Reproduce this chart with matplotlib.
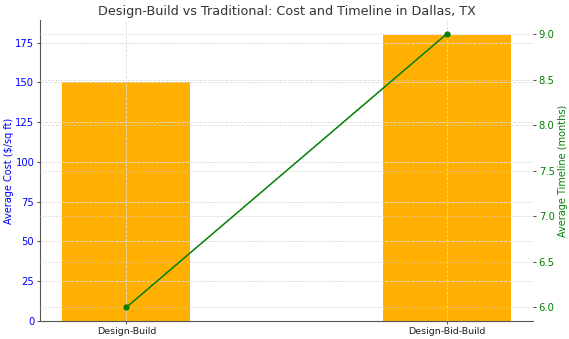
import matplotlib
matplotlib.use("Agg")
import matplotlib.pyplot as plt

methods = ["Design-Build", "Design-Bid-Build"]
cost = [150, 180]
timeline = [6.0, 9.0]

fig, ax1 = plt.subplots(figsize=(5.69, 3.39), dpi=100)
ax1.bar(methods, cost, width=0.4, color="#FFB000")
ax1.set_ylabel("Average Cost ($/sq ft)", color="blue", fontsize=7, labelpad=1)
ax1.tick_params(axis="y", labelcolor="blue", labelsize=7.2, color="#555555",
                length=2, pad=2)
ax1.tick_params(axis="x", labelsize=6.8, color="#555555", length=2, pad=2,
                labelcolor="#222222")
ax1.grid(True, linestyle="--", color="#dddddd", linewidth=0.6)
for s in ["top", "right"]:
    ax1.spines[s].set_visible(False)
for s in ["left", "bottom"]:
    ax1.spines[s].set_color("#555555")

ax2 = ax1.twinx()
ax2.plot(methods, timeline, color="green", marker="o", markersize=3.5, linewidth=1.1)
ax2.set_ylabel("Average Timeline (months)", color="green", fontsize=7, labelpad=2.5)
ax2.tick_params(axis="y", labelcolor="green", labelsize=7.2, color="#555555",
                length=2, pad=2)
ax2.grid(True, linestyle=":", color="#cccccc", linewidth=0.7)
for s in ["top", "right", "left", "bottom"]:
    ax2.spines[s].set_visible(False)

ax1.set_title("Design-Build vs Traditional: Cost and Timeline in Dallas, TX",
              fontsize=9.2, color="#333333", pad=4)
fig.subplots_adjust(left=0.07, right=0.937, top=0.94, bottom=0.053)
fig.savefig("out.png")
